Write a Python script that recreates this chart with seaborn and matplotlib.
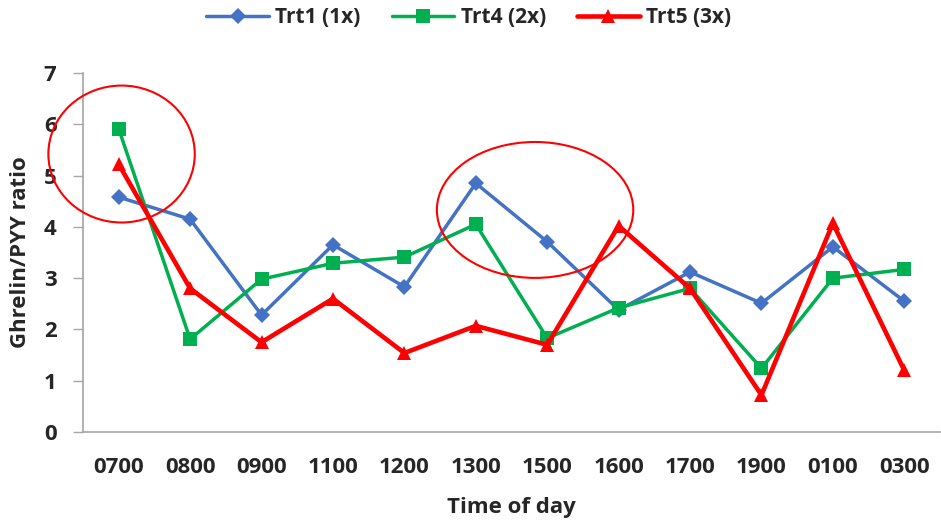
import matplotlib
matplotlib.use("Agg")
import matplotlib.pyplot as plt
from matplotlib.patches import Ellipse
import seaborn as sns
import pandas as pd

times = ["0700", "0800", "0900", "1100", "1200", "1300", "1500", "1600", "1700", "1900", "0100", "0300"]
trt1 = [4.58, 4.15, 2.28, 3.65, 2.83, 4.85, 3.71, 2.38, 3.12, 2.51, 3.61, 2.55]
trt4 = [5.91, 1.81, 2.98, 3.29, 3.41, 4.05, 1.83, 2.42, 2.80, 1.24, 3.00, 3.17]
trt5 = [5.22, 2.80, 1.75, 2.60, 1.54, 2.07, 1.70, 4.02, 2.80, 0.72, 4.07, 1.20]
series_names = ["Trt1 (1x)", "Trt4 (2x)", "Trt5 (3x)"]

rows = []
for name, vals in zip(series_names, [trt1, trt4, trt5]):
    for t, v in zip(times, vals):
        rows.append({"Time": t, "Ratio": v, "Series": name})
df = pd.DataFrame(rows)

sns.set_theme(style="white")
plt.rcParams['font.family'] = ['Open Sans', 'DejaVu Sans']

fig = plt.figure(figsize=(9.41, 5.23), dpi=100)
ax = fig.add_axes([83/941, 91/523, 857/941, 359/523])

colors = {"Trt1 (1x)": "#4472C4", "Trt4 (2x)": "#00B050", "Trt5 (3x)": "#FF0000"}
markers = {"Trt1 (1x)": "D", "Trt4 (2x)": "s", "Trt5 (3x)": "^"}
lws = {"Trt1 (1x)": 2.5, "Trt4 (2x)": 2.5, "Trt5 (3x)": 3.3}
msz = {"Trt1 (1x)": 8.5, "Trt4 (2x)": 9.5, "Trt5 (3x)": 10.5}

for name in series_names:
    sub = df[df["Series"] == name]
    sns.lineplot(data=sub, x="Time", y="Ratio", ax=ax, color=colors[name],
                 marker=markers[name], markersize=msz[name], markeredgewidth=0,
                 linewidth=lws[name], label=name, sort=False)

ax.set_ylim(0, 7)
ax.set_xlim(-0.5, len(times) - 0.5)
ax.set_yticks(range(0, 8))
ax.tick_params(axis='y', which='both', left=True, length=7, color='#A6A6A6', width=1, labelsize=16, pad=12)
ax.tick_params(axis='x', bottom=False, labelsize=16, pad=12)
for lab in ax.get_xticklabels() + ax.get_yticklabels():
    lab.set_fontweight('bold')

for s in ["top", "right"]:
    ax.spines[s].set_visible(False)
for s in ["left", "bottom"]:
    ax.spines[s].set_color("#A6A6A6")
    ax.spines[s].set_linewidth(1.2)

ax.set_xlabel("Time of day", fontsize=16, fontweight='bold', labelpad=14)
ax.set_ylabel("Ghrelin/PYY ratio", fontsize=16, fontweight='bold', labelpad=9)

ax.add_patch(Ellipse((0.04, 5.42), 2.05, 2.67, fill=False, edgecolor="#FF0000",
                     linewidth=1.5, clip_on=False, zorder=5))
ax.add_patch(Ellipse((5.83, 4.33), 2.75, 2.65, fill=False, edgecolor="#FF0000",
                     linewidth=1.5, clip_on=False, zorder=5))

leg = ax.legend(loc="upper center", bbox_to_anchor=(0.45, 1.235), ncol=3, frameon=False,
                fontsize=15, handlelength=3, columnspacing=1.5, handletextpad=0.3)
for t in leg.get_texts():
    t.set_fontweight('bold')

fig.savefig("out.png", dpi=100)
